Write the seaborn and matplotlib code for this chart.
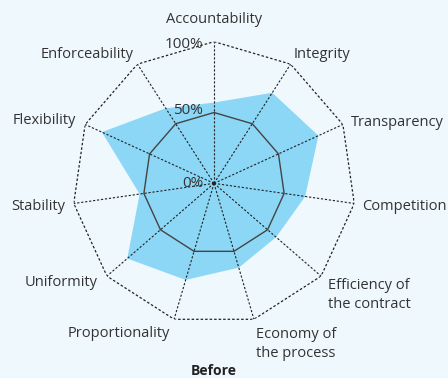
import numpy as np
import matplotlib
matplotlib.use("Agg")
import matplotlib.pyplot as plt
import seaborn as sns

# criteria around the radar, clockwise from the top
categories = ["Accountability", "Integrity", "Transparency", "Competition",
              "Efficiency of\nthe contract", "Economy of\nthe process",
              "Proportionality", "Uniformity", "Stability", "Flexibility",
              "Enforceability"]
# scores "before", in percent
before = [57, 76, 81, 65, 58, 62, 71, 81, 53, 87, 63]
levels = [0, 50, 100]
level_labels = ["0%", "50%", "100%"]

bg = "#eff8fd"
fill_col = "#8cd6f6"
txt_col = "#333333"

sns.set_theme(style="white")
plt.rcParams["font.family"] = ["Open Sans", "DejaVu Sans"]

fig = plt.figure(figsize=(4.48, 3.78), dpi=100, facecolor=bg)
ax = fig.add_axes([0.1614, 0.1401, 0.6326, 0.7497], projection="polar")
ax.set_facecolor("none")
ax.set_theta_offset(np.pi / 2)
ax.set_theta_direction(-1)
ax.set_ylim(0, 100)
ax.grid(False)
ax.spines["polar"].set_visible(False)
ax.set_xticks([])
ax.set_yticks([])

n = len(categories)
angles = np.linspace(0, 2 * np.pi, n, endpoint=False)
closed = np.append(angles, angles[0])

# data polygon
vals = np.append(before, before[0])
ax.fill(closed, vals, color=fill_col, lw=0, zorder=1)

# grid: dotted outer ring + spokes, solid mid ring
ax.plot(closed, [levels[2]] * (n + 1), color="#222222", lw=0.9,
        ls=(0, (2, 1.6)), zorder=3)
ax.plot(closed, [levels[1]] * (n + 1), color="#444444", lw=1.0, zorder=3)
for a in angles:
    ax.plot([a, a], [0, 100], color="#222222", lw=0.8, ls=(0, (2, 1.6)), zorder=3)

# category labels: (dx, dy) offsets in pixels from the outer vertex, alignment
label_pos = [
    ((0, 22), "center", "center"),
    ((3, 10), "left", "center"),
    ((8, 2), "left", "center"),
    ((8, -3), "left", "center"),
    ((7, -19), "left", "center"),
    ((2, -25), "left", "center"),
    ((-4, -14), "right", "center"),
    ((-9, -6), "right", "center"),
    ((-9, -3), "right", "center"),
    ((-9, 4), "right", "center"),
    ((-4, 10), "right", "center"),
]
for a, lab, (off, ha, va) in zip(angles, categories, label_pos):
    ax.annotate(lab, xy=(a, 100), xytext=off, textcoords="offset pixels",
                ha=ha, va=va, fontsize=10.5, color=txt_col, linespacing=1.35,
                annotation_clip=False)

# radial labels on the top spoke
level_off = [(-11, 0), (-11, 2), (-11, -3)]
for lv, lab, off in zip(levels, level_labels, level_off):
    ax.annotate(lab, xy=(0, lv), xytext=off, textcoords="offset pixels",
                ha="right", va="center", fontsize=11, color=txt_col,
                annotation_clip=False, zorder=4)

fig.text(214 / 448, 1 - 371 / 378, "Before", ha="center", va="center",
         fontsize=10, fontweight="bold", color="#222222")

fig.savefig("out.png", dpi=100, facecolor=bg)
